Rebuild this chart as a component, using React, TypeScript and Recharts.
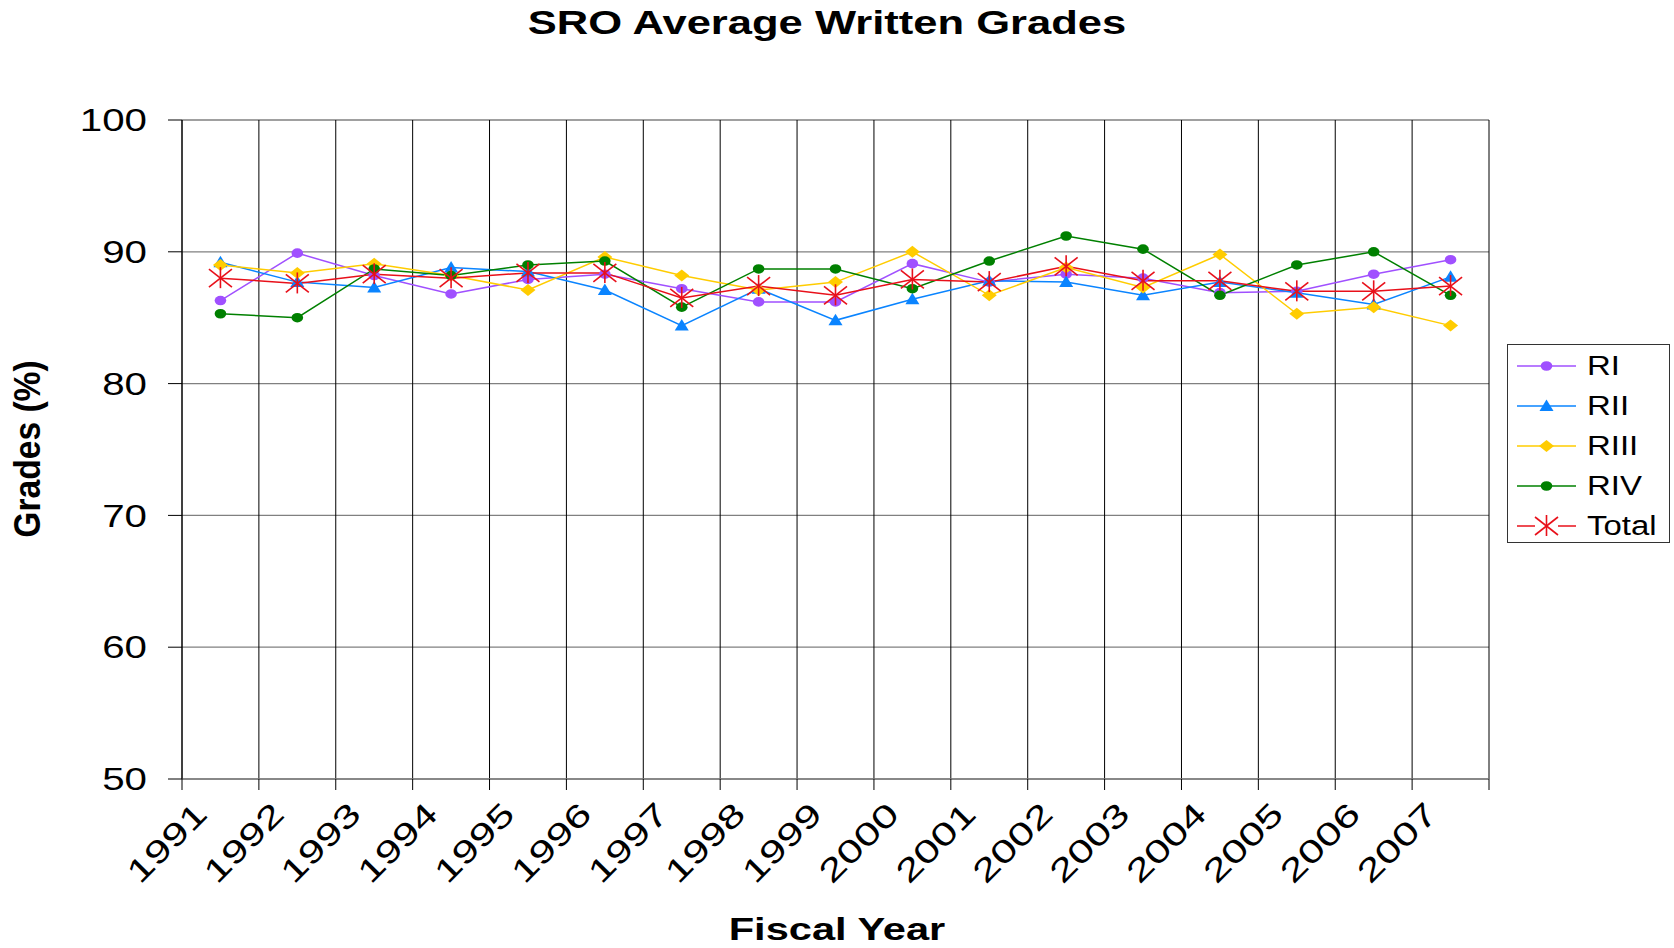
import React from "react";
import { LineChart, Line, XAxis, YAxis, CartesianGrid, Legend } from "recharts";

const FONT = "'Liberation Sans', Arial, sans-serif";

const YEARS = [1991, 1992, 1993, 1994, 1995, 1996, 1997, 1998, 1999, 2000, 2001, 2002, 2003, 2004, 2005, 2006, 2007];
const RI = [86.3, 89.9, 88.2, 86.8, 87.9, 88.3, 87.2, 86.2, 86.2, 89.1, 87.7, 88.3, 88.0, 86.9, 87.0, 88.3, 89.4];
const RII = [89.2, 87.7, 87.3, 88.8, 88.5, 87.1, 84.4, 87.2, 84.8, 86.4, 87.8, 87.7, 86.7, 87.7, 86.9, 86.0, 88.1];
const RIII = [89.0, 88.4, 89.1, 88.2, 87.1, 89.6, 88.2, 87.1, 87.7, 90.0, 86.7, 88.8, 87.3, 89.8, 85.3, 85.8, 84.4];
const RIV = [85.3, 85.0, 88.7, 88.2, 89.0, 89.3, 85.8, 88.7, 88.7, 87.2, 89.3, 91.2, 90.2, 86.7, 89.0, 90.0, 86.7];
const TOTAL = [88.0, 87.6, 88.3, 88.0, 88.4, 88.4, 86.5, 87.4, 86.7, 87.9, 87.7, 88.9, 87.8, 87.8, 87.0, 87.0, 87.4];

const Y_TICKS = [50, 60, 70, 80, 90, 100];
// year boundaries: each fiscal year fills the slot between two ticks
const X_TICKS = [...YEARS, 2008];

const SERIES = [
  { key: "RI", color: "#A050FF", shape: "circle" },
  { key: "RII", color: "#0A84FF", shape: "triangle" },
  { key: "RIII", color: "#FFCC00", shape: "diamond" },
  { key: "RIV", color: "#008000", shape: "circle" },
  { key: "Total", color: "#E8101A", shape: "star" },
];

const data = YEARS.map((year, i) => ({
  year,
  x: year + 0.5,
  RI: RI[i],
  RII: RII[i],
  RIII: RIII[i],
  RIV: RIV[i],
  Total: TOTAL[i],
}));

function Marker({ shape, color, cx, cy }: { shape: string; color: string; cx: number; cy: number }) {
  if (shape === "circle") return <ellipse cx={cx} cy={cy} rx={5.8} ry={4.8} fill={color} />;
  if (shape === "triangle")
    return <polygon points={`${cx},${cy - 6.5} ${cx + 7},${cy + 5} ${cx - 7},${cy + 5}`} fill={color} />;
  if (shape === "diamond")
    return <polygon points={`${cx},${cy - 6} ${cx + 7.5},${cy} ${cx},${cy + 6} ${cx - 7.5},${cy}`} fill={color} />;
  return (
    <g stroke={color} strokeWidth={1.6}>
      <line x1={cx} y1={cy - 11} x2={cx} y2={cy + 10} />
      <line x1={cx - 11.5} y1={cy - 9} x2={cx + 11.5} y2={cy + 9} />
      <line x1={cx - 11.5} y1={cy + 9} x2={cx + 11.5} y2={cy - 9} />
    </g>
  );
}

function XTick({ x, y, payload }: any) {
  if (payload.value === 2008) return null;
  return (
    <g transform={`translate(${x + 27},${y + 24})`}>
      <text transform="rotate(-45) scale(1.37,1)" textAnchor="end" fontFamily={FONT} fontSize={32} fill="#000">
        {payload.value}
      </text>
    </g>
  );
}

function YTick({ x, y, payload }: any) {
  return (
    <g transform={`translate(${x - 19},${y})`}>
      <text transform="scale(1.3,1)" textAnchor="end" dy="0.36em" fontFamily={FONT} fontSize={31} fill="#000">
        {payload.value}
      </text>
    </g>
  );
}

function LegendBox({ payload }: any) {
  return (
    <div
      style={{
        width: 163,
        height: 199,
        border: "1.5px solid #333",
        background: "#fff",
        boxSizing: "border-box",
        paddingTop: 1,
      }}
    >
      {(payload || []).map((p: any) => {
        const s = SERIES.find((d) => d.key === p.value) || SERIES[0];
        return (
          <div key={p.value} style={{ display: "flex", alignItems: "center", height: 40 }}>
            <svg width={60} height={40} style={{ marginLeft: 9 }}>
              {s.shape === "star" ? (
                <g stroke={s.color} strokeWidth={1.5}>
                  <line x1={0} y1={20} x2={18} y2={20} />
                  <line x1={41} y1={20} x2={59} y2={20} />
                </g>
              ) : (
                <line x1={0} y1={20} x2={59} y2={20} stroke={s.color} strokeWidth={1.5} />
              )}
              <Marker shape={s.shape} color={s.color} cx={29.5} cy={20} />
            </svg>
            <span
              style={{
                display: "inline-block",
                marginLeft: 10,
                fontFamily: FONT,
                fontSize: 27,
                color: "#000",
                transform: "scaleX(1.22)",
                transformOrigin: "left center",
                whiteSpace: "nowrap",
              }}
            >
              {p.value}
            </span>
          </div>
        );
      })}
    </div>
  );
}

export default function App() {
  return (
    <div style={{ position: "absolute", left: 0, top: 0, width: 1674, height: 948, background: "#fff" }}>
      <LineChart width={1674} height={948} data={data} margin={{ top: 120, right: 185, bottom: 0, left: 0 }}>
        <CartesianGrid vertical={false} stroke="#808080" strokeWidth={1.3} />
        <CartesianGrid horizontal={false} stroke="#000" strokeWidth={1} />
        <XAxis
          type="number"
          dataKey="x"
          domain={[1991, 2008]}
          ticks={X_TICKS}
          interval={0}
          height={169}
          tickSize={11}
          tickLine={{ stroke: "#000" }}
          axisLine={{ stroke: "#808080", strokeWidth: 1.3 }}
          tick={<XTick />}
          allowDataOverflow
        />
        <YAxis
          type="number"
          domain={[50, 100]}
          ticks={Y_TICKS}
          interval={0}
          width={182}
          tickSize={14}
          tickLine={{ stroke: "#000" }}
          axisLine={{ stroke: "#000" }}
          tick={<YTick />}
        />
        <Legend
          layout="vertical"
          align="center"
          verticalAlign="middle"
          content={<LegendBox />}
          wrapperStyle={{ left: 1507, top: 344, width: 163, height: 199 }}
        />
        {SERIES.map((s) => (
          <Line
            key={s.key}
            type="linear"
            dataKey={s.key}
            name={s.key}
            stroke={s.color}
            strokeWidth={1.5}
            isAnimationActive={false}
            activeDot={false}
            dot={(p: any) => (
              <Marker key={`${s.key}-${p.index}`} shape={s.shape} color={s.color} cx={p.cx} cy={p.cy} />
            )}
          />
        ))}
      </LineChart>
      <svg
        width={1674}
        height={948}
        style={{ position: "absolute", left: 0, top: 0, pointerEvents: "none" }}
      >
        <text
          transform="translate(827,34) scale(1.32,1)"
          textAnchor="middle"
          fontFamily={FONT}
          fontWeight="bold"
          fontSize={33}
          fill="#000"
        >
          SRO Average Written Grades
        </text>
        <text
          transform="translate(837,940) scale(1.3,1)"
          textAnchor="middle"
          fontFamily={FONT}
          fontWeight="bold"
          fontSize={32}
          fill="#000"
        >
          Fiscal Year
        </text>
        <text
          transform="translate(40,449) rotate(-90) scale(1.05,1.15)"
          textAnchor="middle"
          fontFamily={FONT}
          fontWeight="bold"
          fontSize={32}
          fill="#000"
        >
          Grades (%)
        </text>
      </svg>
    </div>
  );
}
